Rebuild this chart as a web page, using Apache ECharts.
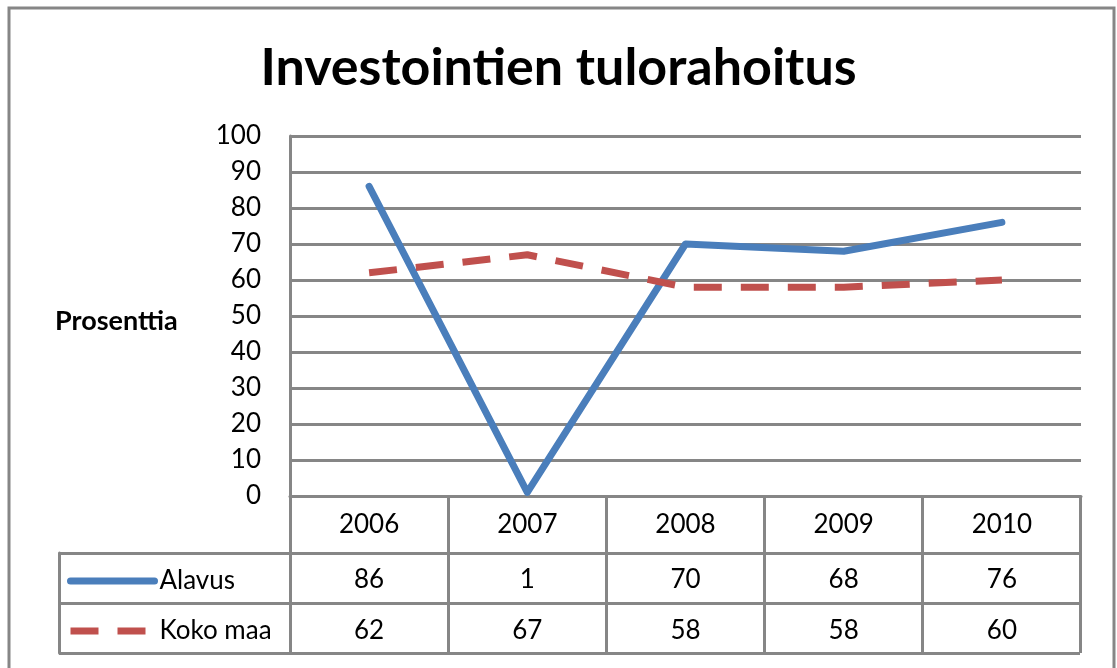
<!DOCTYPE html>
<html>
<head>
<meta charset="utf-8">
<script src="https://cdn.jsdelivr.net/npm/echarts@6/dist/echarts.min.js"></script>
<style>
  html, body { margin: 0; padding: 0; background: #fff; }
  #main { width: 1117px; height: 668px; }
</style>
</head>
<body>
<div id="main"></div>
<script>
// data
var years = ['2006', '2007', '2008', '2009', '2010'];
var alavus = [86, 1, 70, 68, 76];
var kokoMaa = [62, 67, 58, 58, 60];
var seriesNames = ['Alavus', 'Koko maa'];

var gridColor = '#868686';
var fontName = 'Lato';

var myChart = echarts.init(document.getElementById('main'));

var option = {
    backgroundColor: '#fff',
    animation: false,
    textStyle: { fontFamily: fontName, color: '#000' },
    title: [{
        text: 'Investointien tulorahoitus',
        left: 'center',
        top: 37,
        textStyle: { fontFamily: fontName, fontWeight: 'bold', fontSize: 52, color: '#000' }
    }, {
        text: 'Prosenttia',
        left: 50,
        top: 303,
        textStyle: { fontFamily: fontName, fontWeight: 'bold', fontSize: 27, color: '#000' }
    }],
    graphic: [{
        type: 'rect',
        shape: { x: 9, y: 8, width: 1105, height: 720 },
        style: { fill: 'none', stroke: gridColor, lineWidth: 3 },
        silent: true
    }],
    legend: {
        orient: 'vertical',
        left: 62,
        top: 563,
        itemWidth: 84,
        itemHeight: 14,
        itemGap: 24,
        data: seriesNames,
        itemStyle: { opacity: 0 },
        lineStyle: { width: 7 },
        textStyle: { fontFamily: fontName, fontSize: 26, color: '#000' }
    },
    grid: [
        { left: 290, right: 36, top: 136, height: 360 },
        { left: 290, right: 37, top: 496, height: 157 },
        { left: 59, right: 37, top: 553, height: 100 }
    ],
    xAxis: [{
        type: 'category',
        gridIndex: 0,
        position: 'bottom',
        data: years,
        boundaryGap: true,
        axisLine: { lineStyle: { color: gridColor, width: 3 } },
        axisTick: { show: false },
        axisLabel: { margin: 16, fontSize: 26, color: '#000', fontFamily: fontName }
    }, {
        type: 'category',
        gridIndex: 0,
        position: 'bottom',
        data: years,
        offset: 55,
        axisLine: { show: false },
        axisTick: { show: false },
        axisLabel: {
            margin: 16, fontSize: 26, color: '#000', fontFamily: fontName,
            formatter: function (v, i) { return String(alavus[i]); }
        }
    }, {
        type: 'category',
        gridIndex: 0,
        position: 'bottom',
        data: years,
        offset: 106,
        axisLine: { show: false },
        axisTick: { show: false },
        axisLabel: {
            margin: 16, fontSize: 26, color: '#000', fontFamily: fontName,
            formatter: function (v, i) { return String(kokoMaa[i]); }
        }
    }, {
        type: 'category',
        gridIndex: 1,
        data: years,
        axisLine: { show: false },
        axisTick: { show: false },
        axisLabel: { show: false },
        splitLine: { show: true, lineStyle: { color: gridColor, width: 3 } }
    }, {
        type: 'value',
        gridIndex: 2,
        min: 0, max: 1,
        show: false
    }],
    yAxis: [{
        type: 'value',
        gridIndex: 0,
        min: 0,
        max: 100,
        interval: 10,
        axisLine: { show: true, lineStyle: { color: gridColor, width: 3 } },
        axisTick: { show: false },
        axisLabel: { margin: 29, fontSize: 26, color: '#000', fontFamily: fontName },
        splitLine: { lineStyle: { color: gridColor, width: 3 } }
    }, {
        type: 'value',
        gridIndex: 1,
        min: 0, max: 1,
        show: false
    }, {
        type: 'category',
        gridIndex: 2,
        data: seriesNames,
        inverse: true,
        axisLine: { show: true, lineStyle: { color: gridColor, width: 3 } },
        axisTick: { show: false },
        axisLabel: { show: false },
        splitLine: { show: true, lineStyle: { color: gridColor, width: 3 } }
    }],
    series: [{
        name: 'Alavus',
        type: 'line',
        xAxisIndex: 0,
        yAxisIndex: 0,
        data: alavus,
        symbol: 'none',
        color: '#4a7ebb',
        lineStyle: { color: '#4a7ebb', width: 7, cap: 'round', join: 'round' }
    }, {
        name: 'Koko maa',
        type: 'line',
        xAxisIndex: 0,
        yAxisIndex: 0,
        data: kokoMaa,
        symbol: 'none',
        color: '#c0504d',
        lineStyle: { color: '#c0504d', width: 7, type: [28, 19] }
    }]
};

myChart.setOption(option);
</script>
</body>
</html>
